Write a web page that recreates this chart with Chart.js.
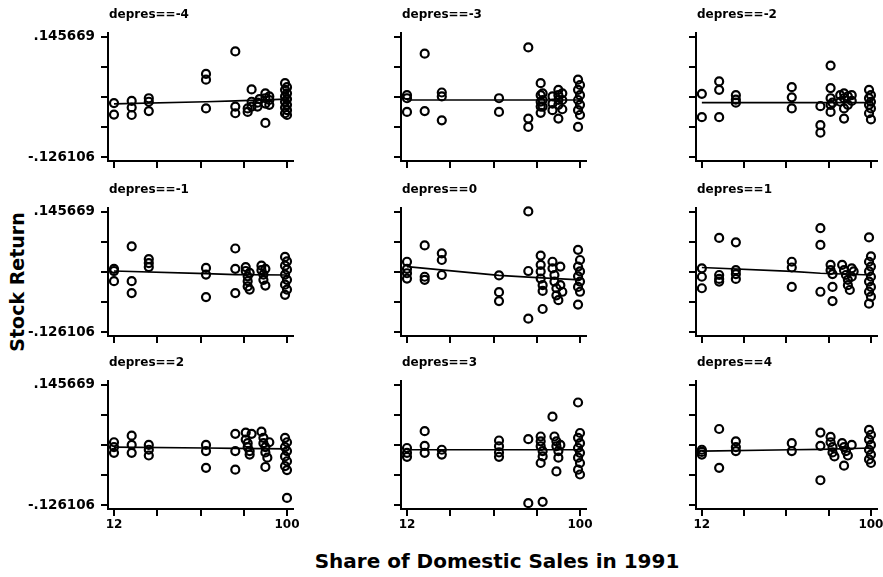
<!DOCTYPE html>
<html>
<head>
<meta charset="utf-8">
<script src="https://cdn.jsdelivr.net/npm/chart.js@4"></script>
<style>
  body { margin: 0; background: #fff; }
  #wrap { position: relative; width: 883px; height: 577px; overflow: hidden; }
  #wrap canvas { position: absolute; left: 0; top: 0; }
  .axis-title { position: absolute; font-family: "DejaVu Sans", sans-serif; font-weight: bold; color: #000; white-space: nowrap; }
</style>
</head>
<body>
<div id="wrap">
  <div class="axis-title" id="ytitle" style="font-size:19px; left:17px; top:282px; transform: translate(-50%,-50%) rotate(-90deg);">Stock Return</div>
  <div class="axis-title" id="xtitle" style="font-size:20px; left:497px; top:561px; transform: translate(-50%,-50%);">Share of Domestic Sales in 1991</div>
</div>
<script>
// panel titles, in reading order
const panelTitles = ["depres==-4", "depres==-3", "depres==-2",
                     "depres==-1", "depres==0", "depres==1",
                     "depres==2", "depres==3", "depres==4"];

// tick values and labels
const xTicks = [12, 34, 56, 78, 100];
const xTickLabels = ["12", "", "", "", "100"];
const yTicks = [-0.126106, -0.058162, 0.009782, 0.077725, 0.145669];
const yTickLabels = ["-.126106", "", "", "", ".145669"];

// x positions of the fitted line
const fitShare = [12, 58.8, 73.7, 100];

// depres == -4
const shareM4 = [12,12,21,21,21,29.7,29.7,29.7,58.8,58.8,58.8,73.7,73.7,73.7,80,80,82,82,82,85,85,86,89,89,89,89,91,91,91,99,100,99,100,99,100,99,100,99,100,99,100];
const retM4 = [-.004,-.030,.001,-.014,-.031,.007,-.001,-.022,.062,.049,-.016,.113,-.012,-.027,-.016,-.024,.027,-.001,-.012,-.003,-.012,.005,.018,.007,-.005,-.049,.011,.003,-.008,.041,.032,.026,.018,.011,.005,-.001,-.008,-.014,-.020,-.027,-.031];
const fitM4 = [-.006, -.001, .001, .005];

// depres == -3
const shareM3 = [12,12,12,21,21,29.7,29.7,29.7,58.8,58.8,73.7,73.7,73.7,80,80,80,80,80,81,81,81,86,86,86,89,89,89,89,89,91,91,91,99,100,99,100,99,100,99,100,99];
const retM3 = [.014,.007,-.024,.108,-.022,.020,.011,-.043,.007,-.024,.122,-.039,-.058,.041,.014,-.001,-.012,-.026,.018,.003,-.012,.011,-.005,-.020,.026,.014,.003,-.008,-.039,.018,.003,-.018,.049,.037,.026,.014,.003,-.008,-.020,-.031,-.058];
const fitM3 = [.003, .003, .003, .003];

// depres == -2
const shareM2 = [12,12,21,21,21,29.7,29.7,29.7,58.8,58.8,58.8,73.7,73.7,73.7,79,79,79,79,79,80,84,84,86,86,86,86,88,88,90,90,99,100,99,100,99,100,99,100];
const retM2 = [.017,-.036,.045,.026,-.036,.014,.004,-.003,.032,.009,-.016,-.011,-.054,-.071,.081,.030,.007,-.008,-.024,-.003,.014,-.001,.018,.007,-.016,-.039,.011,-.008,.014,.001,.026,.014,.007,-.001,-.008,-.016,-.027,-.041];
const fitM2 = [-.003, -.003, -.003, -.003];

// depres == -1
const shareM1 = [12,12,12,21,21,21,29.7,29.7,29.7,58.8,58.8,58.8,73.7,73.7,73.7,79,79,80,80,80,81,81,87,87,88,88,89,89,99,100,99,100,99,100,99,100,99];
const retM1 = [.017,.012,-.011,.068,-.011,-.038,.039,.030,.021,.019,.004,-.047,.063,.017,-.038,.021,.012,.000,-.011,-.023,-.030,.008,.024,.014,.004,-.008,-.021,.017,.044,.034,.024,.015,.004,-.008,-.019,-.030,-.042];
const fitM1 = [.012, .006, .004, .003];

// depres == 0
const shareZ = [12,12,12,12,21,21,21,29.7,29.7,29.7,58.8,58.8,58.8,73.7,73.7,73.7,80,80,80,80,81,81,81,86,86,87,87,88,88,89,90,90,91,99,100,99,100,99,100,99,100,99];
const retZ = [.033,.017,.007,-.005,.070,-.001,-.008,.052,.037,.003,.002,-.036,-.056,.147,.012,-.096,.047,.026,.011,-.005,-.020,-.033,-.074,.033,.018,.003,-.012,-.027,-.043,-.054,.022,-.020,-.035,.060,.037,.022,.011,.000,-.012,-.024,-.035,-.064];
const fitZ = [.022, .002, -.002, -.008];

// depres == 1
const shareP1 = [12,12,12,21,21,21,21,29.7,29.7,29.7,29.7,58.8,58.8,58.8,73.7,73.7,73.7,79,79,80,80,80,85,86,87,88,88,89,90,90,91,99,100,99,100,99,100,99,100,99,100,99];
const retP1 = [.018,-.001,-.027,.087,.003,-.006,-.012,.077,.014,.005,-.006,.033,.020,-.024,.109,.071,-.035,.026,.014,.005,-.024,-.056,.026,.014,.003,-.008,-.020,-.031,.018,-.001,.011,.088,.045,.033,.022,.011,-.001,-.012,-.024,-.035,-.046,-.062];
const fitP1 = [.020, .011, .007, .003];

// depres == 2
const shareP2 = [12,12,12,21,21,21,29.7,29.7,29.7,58.8,58.8,58.8,73.7,73.7,73.7,79,79,80,80,81,81,82,87,88,88,89,89,90,89,91,99,100,99,100,99,100,99,100,100];
const retP2 = [.016,.005,-.008,.031,.010,-.008,.010,-.001,-.014,.010,-.004,-.042,.035,-.004,-.046,.038,.022,.014,.005,-.004,-.012,.035,.040,.026,.014,.005,-.007,-.019,-.040,.016,.026,.016,.005,-.004,-.016,-.027,-.038,-.047,-.110];
const fitP2 = [.005, .003, .002, .001];

// depres == 3
const shareP3 = [12,12,12,21,21,21,29.7,29.7,58.8,58.8,58.8,58.8,73.7,73.7,80,80,80,81,81,80,81,86,87,88,88,89,89,88,90,99,100,99,100,99,100,99,100,99,100];
const retP3 = [.003,-.008,-.017,.041,.008,-.008,-.001,-.012,.020,.007,-.007,-.017,.023,-.122,.029,.018,.007,-.004,-.016,-.031,-.119,.074,.029,.018,.007,-.004,-.019,-.050,.010,.106,.037,.026,.014,.003,-.008,-.019,-.031,-.046,-.057];
const fitP3 = [-.001, -.001, -.001, -.001];

// depres == 4
const shareP4 = [12,12,12,21,21,29.7,29.7,29.7,58.8,58.8,73.7,73.7,73.7,79,79,80,80,81,85,86,87,88,86,90,99,100,99,100,99,100,99,100];
const retP4 = [-.001,-.012,-.006,.046,-.042,.018,.005,-.004,.014,-.004,.038,.008,-.070,.028,.016,.005,-.007,-.016,.014,.005,-.004,-.014,-.037,.010,.044,.033,.022,.010,-.001,-.012,-.023,-.031];
const fitP4 = [-.004, -.001, .000, .003];

const panelShares = [shareM4, shareM3, shareM2, shareM1, shareZ, shareP1, shareP2, shareP3, shareP4];
const panelReturns = [retM4, retM3, retM2, retM1, retZ, retP1, retP2, retP3, retP4];
const panelFits = [fitM4, fitM3, fitM2, fitM1, fitZ, fitP1, fitP2, fitP3, fitP4];

// page layout of the plot areas
const W = 883, H = 577;
const colLeft = [108, 401, 696];
const colRight = [293, 586, 881];
const rowTop = [33, 208, 381];
const rowBottom = [161, 336, 509];
const YW = 80, XH = 30;
const FONT = '"DejaVu Sans", sans-serif';

// draws the "depres==k" caption above each plot area
const panelTitle = {
  id: "panelTitle",
  afterDraw(chart, args, opts) {
    const { ctx, chartArea } = chart;
    ctx.save();
    ctx.font = "bold 12px " + FONT;
    ctx.fillStyle = "#000";
    ctx.textBaseline = "middle";
    ctx.textAlign = "left";
    ctx.fillText(opts.text, chartArea.left + 1, chartArea.top - 18);
    ctx.restore();
  }
};

const wrap = document.getElementById("wrap");

for (let i = 0; i < 9; i++) {
  const row = Math.floor(i / 3);
  const col = i % 3;

  const canvas = document.createElement("canvas");
  canvas.width = W;
  canvas.height = H;
  canvas.style.width = W + "px";
  canvas.style.height = H + "px";
  wrap.appendChild(canvas);

  const points = panelShares[i].map((x, k) => ({ x: x, y: panelReturns[i][k] }));
  const fitLine = fitShare.map((x, k) => ({ x: x, y: panelFits[i][k] }));

  new Chart(canvas, {
    type: "scatter",
    data: {
      datasets: [
        {
          data: points,
          pointRadius: 4,
          pointBorderWidth: 2.2,
          pointBorderColor: "#000",
          pointBackgroundColor: "rgba(0,0,0,0)",
          clip: false
        },
        {
          data: fitLine,
          showLine: true,
          borderColor: "#000",
          borderWidth: 1.7,
          pointRadius: 0,
          clip: false
        }
      ]
    },
    options: {
      responsive: false,
      animation: false,
      events: [],
      layout: {
        padding: {
          left: colLeft[col] - YW,
          right: W - colRight[col],
          top: rowTop[row],
          bottom: H - rowBottom[row] - XH
        }
      },
      plugins: {
        legend: { display: false },
        tooltip: { enabled: false },
        panelTitle: { text: panelTitles[i] }
      },
      scales: {
        x: {
          type: "linear",
          min: 8.95,
          max: 103.05,
          afterBuildTicks: (s) => { s.ticks = xTicks.map((v) => ({ value: v })); },
          afterFit: (s) => { s.height = XH; s.paddingLeft = 0; s.paddingRight = 0; },
          ticks: {
            autoSkip: false,
            maxRotation: 0,
            padding: 2,
            color: "#000",
            font: { family: FONT, size: 12, weight: "bold" },
            callback: (v, k) => (row === 2 ? xTickLabels[k] : "")
          },
          grid: { drawOnChartArea: false, tickLength: 7, color: "#000", lineWidth: 2 },
          border: { color: "#000", width: 2 }
        },
        y: {
          type: "linear",
          min: -0.135165,
          max: 0.154728,
          afterBuildTicks: (s) => { s.ticks = yTicks.map((v) => ({ value: v })); },
          afterFit: (s) => { s.width = YW; s.paddingTop = 0; s.paddingBottom = 0; },
          ticks: {
            autoSkip: false,
            padding: 6,
            color: "#000",
            font: { family: FONT, size: 13.5, weight: "bold" },
            callback: (v, k) => (col === 0 ? yTickLabels[k] : "")
          },
          grid: { drawOnChartArea: false, tickLength: 7, color: "#000", lineWidth: 2 },
          border: { color: "#000", width: 2 }
        }
      }
    },
    plugins: [panelTitle]
  });
}
</script>
</body>
</html>
